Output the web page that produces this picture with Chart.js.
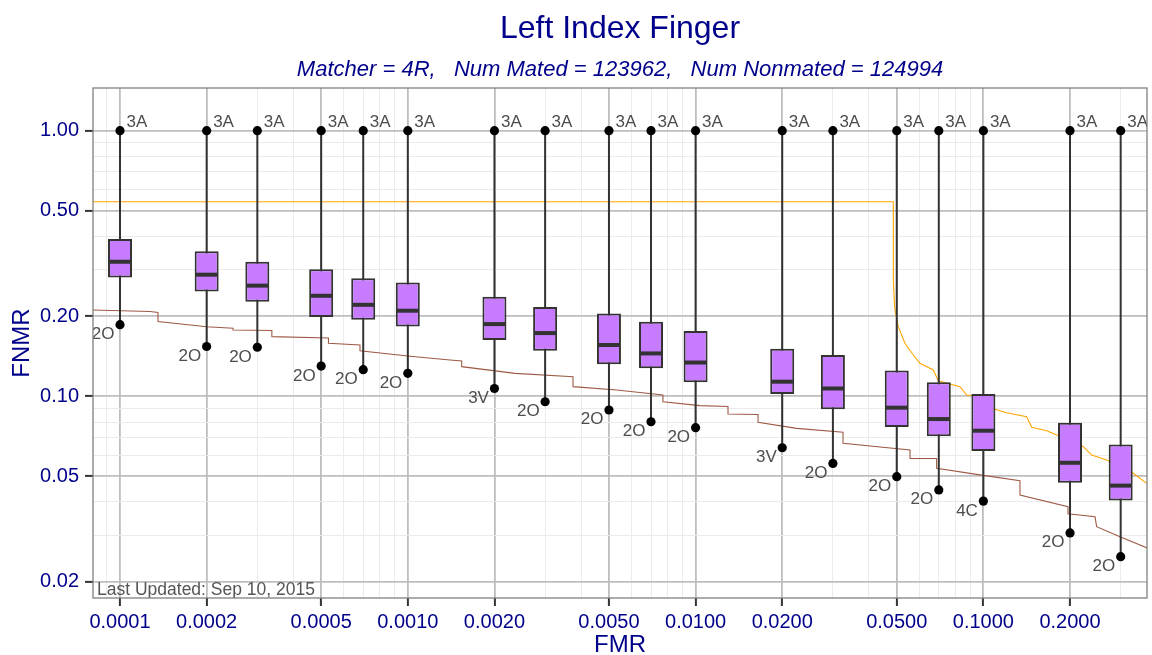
<!DOCTYPE html>
<html>
<head>
<meta charset="utf-8">
<script src="https://cdn.jsdelivr.net/npm/chart.js@4.4.0/dist/chart.umd.min.js"></script>
<style>
html,body{margin:0;padding:0;background:#ffffff;}
#wrap{width:1152px;height:655px;position:relative;}
</style>
</head>
<body>
<div id="wrap"><canvas id="c" width="1152" height="655"></canvas></div>
<script>
// ---- Data ----
const fmrLevels  = [0.0001, 0.0002, 0.0003, 0.0005, 0.0007, 0.001, 0.002, 0.003, 0.005, 0.007, 0.01, 0.02, 0.03, 0.05, 0.07, 0.1, 0.2, 0.3];
const q3Values   = [0.391, 0.352, 0.321, 0.301, 0.278, 0.268, 0.237, 0.217, 0.205, 0.191, 0.176, 0.151, 0.143, 0.125, 0.113, 0.102, 0.0795, 0.0659];
const medValues  = [0.321, 0.287, 0.261, 0.239, 0.221, 0.210, 0.187, 0.173, 0.156, 0.145, 0.134, 0.1135, 0.107, 0.0906, 0.0821, 0.0742, 0.0562, 0.0461];
const q1Values   = [0.280, 0.248, 0.227, 0.199, 0.194, 0.183, 0.163, 0.1485, 0.132, 0.1275, 0.113, 0.102, 0.0893, 0.0766, 0.0707, 0.0622, 0.0473, 0.0405];
const lowValues  = [0.186, 0.154, 0.153, 0.130, 0.126, 0.122, 0.107, 0.0954, 0.0888, 0.0802, 0.0762, 0.064, 0.0559, 0.0498, 0.0444, 0.0403, 0.0306, 0.0249];
const highValues = [1, 1, 1, 1, 1, 1, 1, 1, 1, 1, 1, 1, 1, 1, 1, 1, 1, 1];
const lowLabels  = ['2O','2O','2O','2O','2O','2O','3V','2O','2O','2O','2O','3V','2O','2O','2O','4C','2O','2O'];
const highLabels = ['3A','3A','3A','3A','3A','3A','3A','3A','3A','3A','3A','3A','3A','3A','3A','3A','3A','3A'];

const brownFmr  = [0.00008, 0.0001271, 0.0001355, 0.0001355, 0.0002, 0.000247, 0.000247, 0.000337, 0.000337, 0.00053, 0.00053, 0.000682, 0.000682, 0.001018, 0.001401, 0.001539, 0.001539, 0.002358, 0.00375, 0.00375, 0.00532, 0.0077, 0.0077, 0.01036, 0.01296, 0.01296, 0.01648, 0.01648, 0.02245, 0.03253, 0.03253, 0.0556, 0.0556, 0.0688, 0.0688, 0.0986, 0.134, 0.134, 0.1968, 0.1968, 0.2443, 0.2475, 0.2983, 0.379];
const brownFnmr = [0.2113, 0.2086, 0.2067, 0.1912, 0.1828, 0.1803, 0.1777, 0.1769, 0.1677, 0.1658, 0.1583, 0.156, 0.1485, 0.1415, 0.137, 0.1358, 0.1293, 0.122, 0.1185, 0.1087, 0.1056, 0.1011, 0.0954, 0.0922, 0.0915, 0.0858, 0.0854, 0.0798, 0.0757, 0.0732, 0.0665, 0.0628, 0.0584, 0.0583, 0.0536, 0.0505, 0.0481, 0.0425, 0.0384, 0.0361, 0.0352, 0.0323, 0.0296, 0.0266];

const orangeFmr  = [0.00008, 0.04864, 0.04864, 0.04918, 0.0506, 0.0534, 0.0571, 0.0602, 0.067, 0.0697, 0.0829, 0.0875, 0.0973, 0.1097, 0.1205, 0.1414, 0.1472, 0.166, 0.1798, 0.2224, 0.2378, 0.2682, 0.332, 0.3694];
const orangeFnmr = [0.5403, 0.5403, 0.2741, 0.2145, 0.1828, 0.1583, 0.143, 0.1331, 0.1256, 0.1145, 0.1087, 0.1011, 0.0997, 0.0893, 0.0867, 0.0838, 0.0764, 0.0742, 0.0715, 0.0646, 0.0601, 0.0576, 0.0513, 0.047];

const xMajorTicks = [0.0001, 0.0002, 0.0005, 0.001, 0.002, 0.005, 0.01, 0.02, 0.05, 0.1, 0.2];
const yMajorTicks = [0.02, 0.05, 0.1, 0.2, 0.5, 1.0];

const titleText    = 'Left Index Finger';
const subtitleText = 'Matcher = 4R,   Num Mated = 123962,   Num Nonmated = 124994';
const footnoteText = 'Last Updated: Sep 10, 2015';

// ---- Styling / layout ----
const FONT = "'Liberation Sans', Arial, Helvetica, sans-serif";
const NAVY = '#00008B';
const X_MIN = 8.056e-5, X_MAX = 0.3703;
const Y_MIN = 0.0174, Y_MAX = 1.448;

function isIn(list, v){ return list.some(m => Math.abs(m - v) / m < 1e-6); }
function logTicks(min, max){
  const out = [];
  for (let d = -6; d <= 1; d++){
    for (let k = 1; k <= 9; k++){
      const v = parseFloat((k * Math.pow(10, d)).toPrecision(6));
      if (v >= min && v <= max) out.push(v);
    }
  }
  return out;
}

function gridOpts(majors){
  return {
    color: c => (c.tick && isIn(majors, c.tick.value)) ? '#bebebe' : '#ebebeb',
    lineWidth: c => (c.tick && isIn(majors, c.tick.value)) ? 1.8 : 1,
    tickColor: c => (c.tick && isIn(majors, c.tick.value)) ? '#333333' : 'rgba(0,0,0,0)',
    tickWidth: 2,
    tickLength: 8,
    drawTicks: true
  };
}

const pts = (xs, ys) => xs.map((x, i) => ({x: x, y: ys[i]}));

const annotatePlugin = {
  id: 'annotate',
  afterDatasetsDraw(chart){
    const {ctx, chartArea: a, scales: {x, y}} = chart;
    ctx.save();
    ctx.beginPath();
    ctx.rect(a.left, a.top, a.right - a.left, a.bottom - a.top);
    ctx.clip();
    ctx.fillStyle = '#4d4d4d';
    ctx.font = '17px ' + FONT;
    ctx.textBaseline = 'alphabetic';
    for (let i = 0; i < fmrLevels.length; i++){
      const px = x.getPixelForValue(fmrLevels[i]);
      ctx.textAlign = 'left';
      ctx.fillText(highLabels[i], px + 6.5, y.getPixelForValue(highValues[i]) - 4);
      ctx.textAlign = 'right';
      ctx.fillText(lowLabels[i], px - 5.5, y.getPixelForValue(lowValues[i]) + 14.5);
    }
    ctx.textAlign = 'left';
    ctx.fillStyle = '#555555';
    ctx.font = '17.5px ' + FONT;
    ctx.fillText(footnoteText, a.left + 4, a.bottom - 3);
    ctx.restore();
    // panel border
    ctx.save();
    ctx.strokeStyle = '#808080';
    ctx.lineWidth = 1.3;
    ctx.strokeRect(a.left, a.top, a.right - a.left, a.bottom - a.top);
    ctx.restore();
  },
  afterDraw(chart){
    const {ctx, chartArea: a} = chart;
    const cx = (a.left + a.right) / 2;
    ctx.save();
    ctx.fillStyle = NAVY;
    ctx.textAlign = 'center';
    ctx.textBaseline = 'alphabetic';
    ctx.font = '32px ' + FONT;
    ctx.fillText(titleText, cx, 38);
    ctx.font = 'italic 22px ' + FONT;
    ctx.fillText(subtitleText, cx, 76);
    ctx.restore();
  }
};

new Chart(document.getElementById('c'), {
  type: 'bar',
  data: {
    datasets: [
      { type: 'scatter', label: 'whisker ends', order: 0,
        data: pts(fmrLevels, highValues).concat(pts(fmrLevels, lowValues)),
        pointRadius: 4.6, pointBackgroundColor: '#000000', pointBorderWidth: 0, showLine: false },
      { type: 'scatter', label: 'median', order: 1,
        data: pts(fmrLevels, medValues),
        pointStyle: 'line', pointRadius: 11, pointBorderWidth: 4, pointBorderColor: '#333333', showLine: false },
      { type: 'bar', label: 'box', order: 2, grouped: false,
        data: fmrLevels.map((f, i) => ({x: f, y: [q1Values[i], q3Values[i]]})),
        barThickness: 24, backgroundColor: '#C77CFF', borderColor: '#333333', borderWidth: 2, borderSkipped: false, inflateAmount: 0 },
      { type: 'bar', label: 'whisker', order: 3, grouped: false,
        data: fmrLevels.map((f, i) => ({x: f, y: [lowValues[i], highValues[i]]})),
        barThickness: 2, backgroundColor: '#333333', borderWidth: 0, inflateAmount: 0 },
      { type: 'line', label: 'orange', order: 4,
        data: pts(orangeFmr, orangeFnmr),
        borderColor: '#FFA500', borderWidth: 1.1, pointRadius: 0, tension: 0, fill: false },
      { type: 'line', label: 'brown', order: 5,
        data: pts(brownFmr, brownFnmr),
        borderColor: '#9E5A45', borderWidth: 1.1, pointRadius: 0, tension: 0, fill: false }
    ]
  },
  options: {
    responsive: false,
    animation: false,
    events: [],
    layout: { autoPadding: false, padding: { top: 88, right: 5, bottom: 0, left: 0 } },
    plugins: { legend: { display: false }, tooltip: { enabled: false }, title: { display: false } },
    scales: {
      x: {
        type: 'logarithmic', min: X_MIN, max: X_MAX, offset: false,
        afterBuildTicks: s => { s.ticks = logTicks(X_MIN, X_MAX).map(v => ({value: v})); },
        afterFit: s => { s.height = 57; },
        grid: Object.assign(gridOpts(xMajorTicks), {offset: false}),
        border: { display: false },
        ticks: {
          autoSkip: false, maxRotation: 0, minRotation: 0, padding: 4,
          color: NAVY, font: { family: FONT, size: 20 },
          callback: v => isIn(xMajorTicks, v) ? v.toFixed(4) : ''
        },
        title: { display: true, text: 'FMR', color: NAVY, font: { family: FONT, size: 24 }, padding: { top: 0, bottom: -5 } }
      },
      y: {
        type: 'logarithmic', min: Y_MIN, max: Y_MAX,
        afterBuildTicks: s => { s.ticks = logTicks(Y_MIN, Y_MAX).map(v => ({value: v})); },
        afterFit: s => { s.width = 93; },
        grid: gridOpts(yMajorTicks),
        border: { display: false },
        ticks: {
          autoSkip: false, padding: 6,
          color: NAVY, font: { family: FONT, size: 20 },
          callback: v => isIn(yMajorTicks, v) ? v.toFixed(2) : ''
        },
        title: { display: true, text: 'FNMR', color: NAVY, font: { family: FONT, size: 24 }, padding: { top: 8, bottom: 0 } }
      }
    }
  },
  plugins: [annotatePlugin]
});
</script>
</body>
</html>
